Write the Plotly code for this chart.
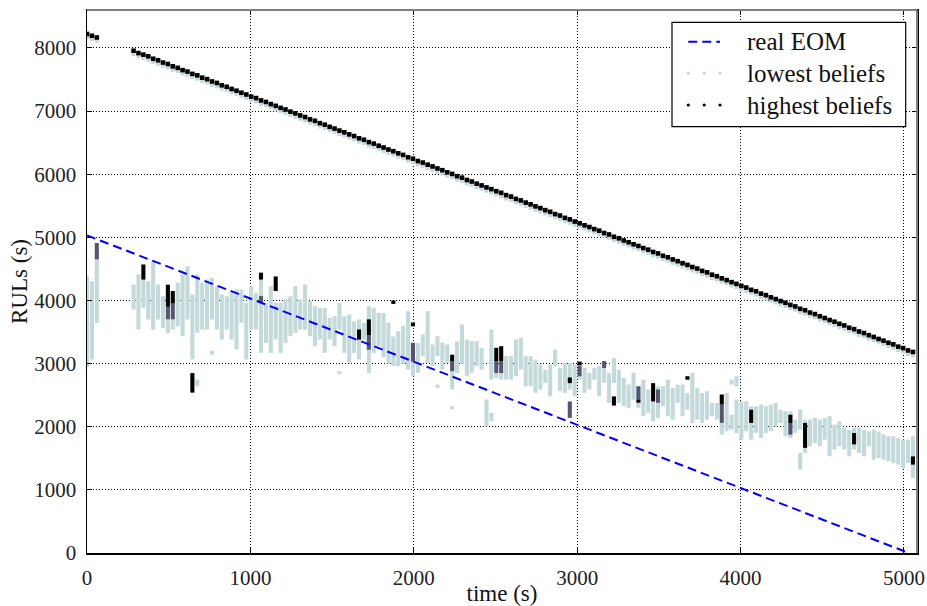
import plotly.graph_objects as go

# ---------------- data ----------------
# time steps (s)
times = [0, 30, 60, 285, 315, 345, 375, 405, 435, 465, 495, 525, 555, 585, 615, 645, 675, 705, 735,
         765, 795, 825, 855, 885, 915, 945, 975, 1005, 1035, 1065, 1095, 1125, 1155, 1185, 1215, 1245,
         1275, 1305, 1335, 1365, 1395, 1425, 1455, 1485, 1515, 1545, 1575, 1605, 1635, 1665, 1695,
         1725, 1755, 1785, 1815, 1845, 1875, 1905, 1935, 1965, 1995, 2025, 2055, 2085, 2115, 2145,
         2175, 2205, 2235, 2265, 2295, 2325, 2355, 2385, 2415, 2445, 2475, 2505, 2535, 2565, 2595,
         2625, 2655, 2685, 2715, 2745, 2775, 2805, 2835, 2865, 2895, 2925, 2955, 2985, 3015, 3045,
         3075, 3105, 3135, 3165, 3195, 3225, 3255, 3285, 3315, 3345, 3375, 3405, 3435, 3465, 3495,
         3525, 3555, 3585, 3615, 3645, 3675, 3705, 3735, 3765, 3795, 3825, 3855, 3885, 3915, 3945,
         3975, 4005, 4035, 4065, 4095, 4125, 4155, 4185, 4215, 4245, 4275, 4305, 4335, 4365, 4395,
         4425, 4455, 4485, 4515, 4545, 4575, 4605, 4635, 4665, 4695, 4725, 4755, 4785, 4815, 4845,
         4875, 4905, 4935, 4965, 4995, 5025, 5055]

# highest-belief RUL (upper band)
high_rul = [8220, 8192, 8165, 7955, 7918, 7893, 7866, 7828, 7804, 7768, 7745, 7708, 7684, 7648, 7625,
            7588, 7565, 7528, 7505, 7468, 7445, 7408, 7384, 7350, 7322, 7290, 7262, 7228, 7205, 7168,
            7144, 7110, 7082, 7050, 7024, 6990, 6963, 6930, 6905, 6868, 6845, 6808, 6784, 6750, 6722,
            6690, 6663, 6630, 6604, 6568, 6545, 6508, 6484, 6450, 6422, 6390, 6363, 6330, 6305, 6268,
            6245, 6208, 6184, 6150, 6122, 6090, 6063, 6030, 6004, 5968, 5945, 5908, 5884, 5850, 5822,
            5790, 5763, 5730, 5705, 5668, 5645, 5608, 5584, 5550, 5522, 5490, 5463, 5430, 5404, 5368,
            5345, 5308, 5284, 5250, 5222, 5190, 5163, 5130, 5105, 5068, 5045, 5008, 4984, 4950, 4922,
            4890, 4863, 4830, 4804, 4768, 4745, 4708, 4684, 4650, 4622, 4590, 4563, 4530, 4505, 4468,
            4445, 4408, 4384, 4350, 4322, 4290, 4263, 4230, 4204, 4168, 4145, 4108, 4084, 4050, 4022,
            3990, 3963, 3930, 3905, 3868, 3845, 3808, 3784, 3750, 3722, 3690, 3663, 3630, 3604, 3568,
            3545, 3508, 3484, 3450, 3422, 3390, 3363, 3330, 3305, 3268, 3245, 3208, 3184]

# lowest-belief RUL cloud: per time step, lowest and highest value
low_lo = [2950, 3065, 3645, 3856, 3540, 3883, 3698, 3540, 3698, 3566, 3480, 3540, 3592, 3434, 3698,
          3065, 3487, 3540, 3540, 3698, 3540, 3381, 3540, 3381, 3223, 3645, 3065, 3540, 3540, 3170,
          3328, 3170, 3381, 3170, 3328, 3434, 3487, 3540, 3540, 3434, 3276, 3381, 3170, 3381, 3276,
          3540, 3170, 3012, 3170, 3065, 3381, 2853, 3170, 3276, 3100, 3000, 2960, 2958, 3000, 2906,
          2800, 2853, 3117, 3011, 2958, 3117, 2906, 3011, 2589, 2850, 3000, 2800, 2853, 2958, 2906,
          2007, 2746, 2773, 2746, 2746, 2746, 2800, 2906, 2641, 2641, 2536, 2589, 2694, 2483, 2958,
          2562, 2536, 2589, 2483, 2746, 2536, 2589, 2746, 2483, 2694, 2378, 2694, 2378, 2325, 2298,
          2430, 2300, 2166, 2219, 2086, 2139, 2324, 2166, 2113, 2377, 2166, 2271, 2060, 2113, 2060,
          2113, 2166, 2113, 1875, 1928, 1954, 1902, 1796, 1928, 1796, 1902, 1822, 1902, 1928, 2007,
          2060, 1849, 1822, 1902, 1954, 1585, 1690, 1743, 1690, 1796, 1532, 1638, 1690, 1638, 1532,
          1638, 1585, 1532, 1690, 1479, 1506, 1479, 1453, 1426, 1400, 1347, 1426, 1189]
low_hi = [4380, 4305, 4650, 4253, 4411, 4332, 4305, 4622, 4253, 4068, 3700, 3700, 4280, 4411, 4543,
          4094, 4411, 4280, 4332, 4358, 4226, 4094, 4068, 4147, 4173, 4173, 3962, 4226, 4120, 4332,
          3962, 4226, 3962, 3962, 4015, 4068, 4226, 4015, 4253, 3988, 3909, 3883, 3883, 3724, 3751,
          3962, 3751, 3777, 3672, 3698, 3645, 3909, 3883, 3804, 3800, 3650, 3430, 3513, 3600, 3830,
          3328, 3328, 3460, 3830, 3301, 3433, 3328, 3301, 3040, 3350, 3618, 3380, 3354, 3354, 3249,
          2430, 3539, 2850, 2850, 3117, 3117, 3380, 3407, 3117, 3117, 3064, 2985, 2906, 2985, 3222,
          2932, 3011, 3011, 2985, 2800, 2932, 2853, 2932, 2958, 2932, 2853, 3090, 2906, 2774, 2668,
          2853, 2640, 2746, 2589, 2400, 2641, 2641, 2746, 2614, 2667, 2667, 2535, 2852, 2614, 2535,
          2562, 2377, 2377, 2060, 2535, 2192, 2430, 2403, 2403, 2324, 2324, 2350, 2324, 2350, 2377,
          2271, 2245, 2245, 2113, 2271, 2113, 2113, 2139, 2113, 2139, 2166, 2034, 2086, 1981, 1954,
          1981, 1981, 1954, 1928, 1954, 1928, 1875, 1849, 1849, 1822, 1796, 1796, 1849]

# isolated lowest-belief points / short streaks away from the main columns
extra_t = [675, 765, 1545, 2145, 2235, 2475, 3945, 3975, 4365]
extra_lo = [2642, 3140, 2830, 2615, 2275, 2087, 2667, 2640, 1321]
extra_hi = [2748, 3200, 2880, 2665, 2325, 2219, 2746, 2800, 1585]

# intermediate beliefs (purple-grey streaks)
mid_t = [60, 495, 525, 1065, 1725, 1995, 2235, 2505, 2535, 2955, 3015, 3165, 3375, 3495, 3885, 4305]
mid_lo = [4650, 3700, 3700, 3960, 3220, 3030, 2880, 2850, 2850, 2140, 2800, 2930, 2430, 2380, 2060, 1875]
mid_hi = [4910, 3900, 3950, 4070, 3450, 3330, 3040, 3040, 3040, 2400, 2960, 3040, 2640, 2590, 2350, 2060]

# highest beliefs inside the lower cloud (black streaks)
dark_t = [345, 495, 525, 645, 1065, 1155, 1665, 1725, 1875, 1995, 2235, 2505, 2535, 2955, 3015,
          3225, 3375, 3465, 3675, 3885, 4065, 4305, 4395, 4695, 5055]
dark_lo = [4330, 3900, 3950, 2540, 4330, 4150, 3380, 3450, 3945, 3590, 3040, 3040, 3040, 2690, 2970,
           2335, 2380, 2400, 2745, 2350, 2060, 2060, 1665, 1720, 1400]
dark_hi = [4570, 4250, 4150, 2850, 4440, 4380, 3540, 3700, 4000, 3650, 3140, 3250, 3275, 2780, 3030,
           2480, 2430, 2690, 2800, 2510, 2270, 2190, 2060, 1900, 1530]

# real end of mission line
eom_time = [0, 5030]
eom_rul = [5030, 0]

x_ticks = [0, 1000, 2000, 3000, 4000, 5000]
y_ticks = [0, 1000, 2000, 3000, 4000, 5000, 6000, 7000, 8000]
legend_labels = ["real EOM", "lowest beliefs", "highest beliefs"]

# ---------------- styling ----------------
LIGHT = "#c4d9d9"
MID = "#55556f"
DARK = "#000000"
BLUE = "#0000ff"
FONT = "Liberation Serif"
BAR_W = 25


def span(lo, hi):
    return [h - l for l, h in zip(lo, hi)]


fig = go.Figure()

bar_style = dict(width=BAR_W, showlegend=False, hoverinfo="skip")
fig.add_trace(go.Bar(x=times, base=low_lo, y=span(low_lo, low_hi),
                     marker=dict(color=LIGHT, line=dict(width=0)), **bar_style))
fig.add_trace(go.Bar(x=extra_t, base=extra_lo, y=span(extra_lo, extra_hi),
                     marker=dict(color=LIGHT, line=dict(width=0)), **bar_style))
fig.add_trace(go.Bar(x=mid_t, base=mid_lo, y=span(mid_lo, mid_hi),
                     marker=dict(color=MID, line=dict(width=0)), **bar_style))
fig.add_trace(go.Bar(x=dark_t, base=dark_lo, y=span(dark_lo, dark_hi),
                     marker=dict(color=DARK, line=dict(width=0)), **bar_style))

fig.add_trace(go.Scatter(x=eom_time, y=eom_rul, mode="lines",
                         line=dict(color=BLUE, width=2, dash="9px,5px"),
                         showlegend=False, hoverinfo="skip"))

fig.add_trace(go.Scatter(x=times, y=high_rul, mode="markers",
                         marker=dict(symbol="square", size=4.6, color=DARK, line=dict(width=0)),
                         error_y=dict(type="constant", symmetric=False, value=0, valueminus=85,
                                      color=LIGHT, thickness=4, width=0),
                         showlegend=False, hoverinfo="skip"))

# ---------------- layout ----------------
L, R, T, B = 87, 10, 10, 53
PW, PH = 927 - L - R, 606 - T - B

fig.update_layout(
    width=927, height=606,
    margin=dict(l=L, r=R, t=T, b=B, autoexpand=False),
    paper_bgcolor="white", plot_bgcolor="white",
    barmode="overlay", showlegend=False,
    font=dict(family=FONT, color="#111111", size=20),
)

axis_common = dict(
    automargin=False,
    showgrid=True, gridcolor="#000000", gridwidth=1, griddash="1px,2px",
    zeroline=False, showline=True, linecolor="#000000", linewidth=1.5,
    ticks="inside", ticklen=5, tickwidth=1, tickcolor="#000000", mirror="ticks",
    tickfont=dict(family=FONT, size=21, color="#222222"),
)

fig.update_xaxes(range=[0, 5080], tickvals=x_ticks, ticktext=[str(v) for v in x_ticks],
                 title=dict(text="time (s)", font=dict(family=FONT, size=23, color="#111111"),
                            standoff=4),
                 ticklabelstandoff=5, **axis_common)
fig.update_yaxes(range=[0, 8600], tickvals=y_ticks, ticktext=[str(v) for v in y_ticks],
                 title=dict(text="RULs (s)", font=dict(family=FONT, size=23, color="#111111"),
                            standoff=0),
                 ticklabelstandoff=5, **axis_common)

# grey top / right spines
fig.add_shape(type="line", xref="paper", yref="paper", x0=0, x1=1, y0=1, y1=1,
              line=dict(color="#808080", width=2))
fig.add_shape(type="line", xref="paper", yref="paper", x0=1, x1=1, y0=0, y1=1,
              line=dict(color="#808080", width=2))

# ---------------- custom legend (matplotlib style) ----------------
def px_x(p):
    return (p - L) / PW


def px_y(p):
    return (606 - B - p) / PH


fig.add_shape(type="rect", xref="paper", yref="paper",
              x0=px_x(672), x1=px_x(905.7), y0=px_y(126.7), y1=px_y(22.3),
              line=dict(color="#000000", width=1.2), fillcolor="white", layer="above")
rows = [px_y(41.7), px_y(73.3), px_y(105)]
sx = [px_x(688.3), px_x(704.2), px_x(720)]
fig.add_shape(type="line", xref="paper", yref="paper", x0=sx[0], x1=sx[2], y0=rows[0], y1=rows[0],
              line=dict(color=BLUE, width=2, dash="9px,5px"), layer="above")
for j, col in ((1, LIGHT), (2, DARK)):
    for xs in sx:
        fig.add_shape(type="circle", xref="paper", yref="paper",
                      x0=xs - 1.6 / PW, x1=xs + 1.6 / PW,
                      y0=rows[j] - 1.6 / PH, y1=rows[j] + 1.6 / PH,
                      line=dict(width=0), fillcolor=col, layer="above")
for lab, yy in zip(legend_labels, rows):
    fig.add_annotation(xref="paper", yref="paper", x=px_x(745), y=yy, text=lab,
                       showarrow=False, xanchor="left", yanchor="middle",
                       font=dict(family=FONT, size=25, color="#111111"))

fig.write_html("out.html",
               config={"displayModeBar": False, "staticPlot": True},
               post_script="document.body.style.margin='0';"
                           "document.body.style.overflow='hidden';")
